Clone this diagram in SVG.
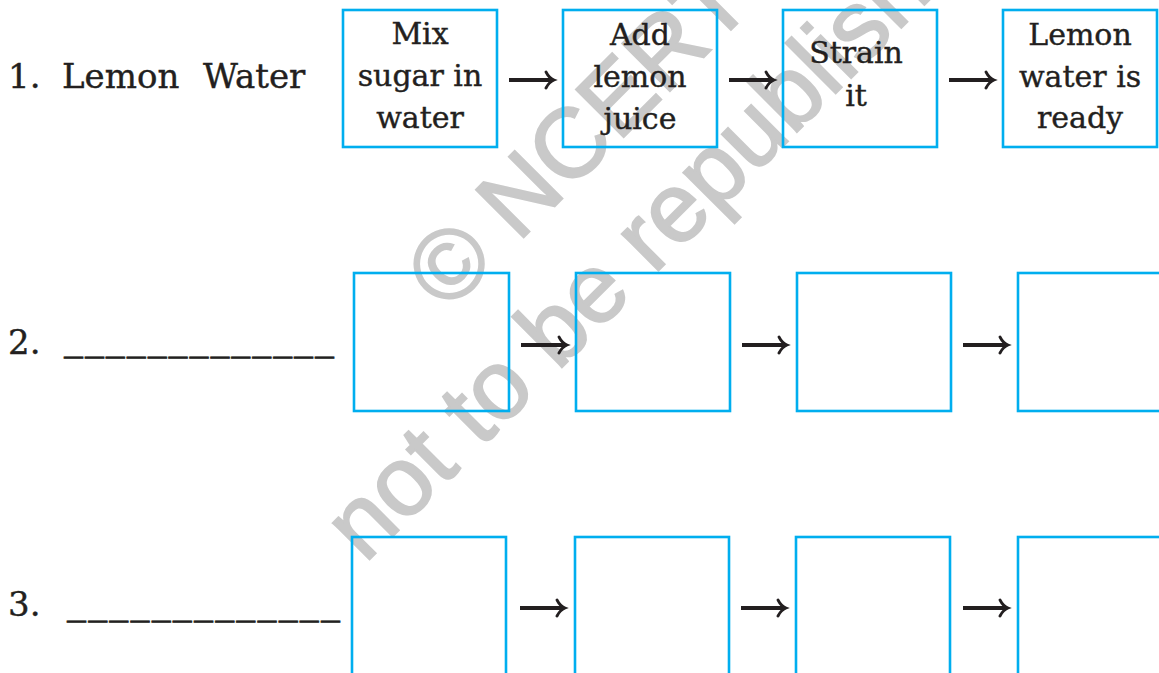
<svg xmlns="http://www.w3.org/2000/svg" width="1159" height="673" viewBox="0 0 1159 673">
<style>
.wm{font-family:"Liberation Sans",Arial,sans-serif;font-size:98px;fill:#c9c9c9;stroke:#c9c9c9;stroke-width:2}
.box{fill:none;stroke:#00aeef;stroke-width:2.6}
.t{font-family:"DejaVu Serif","Liberation Serif",serif;font-size:30px;fill:#231f20;stroke:#231f20;stroke-width:0.4;text-anchor:middle}
.lbl{font-family:"DejaVu Serif","Liberation Serif",serif;font-size:34px;fill:#231f20;stroke:#231f20;stroke-width:0.4}
.blank{font-family:"DejaVu Serif","Liberation Serif",serif;font-size:38px;fill:#231f20;stroke:#231f20;stroke-width:0.8}
.ln{stroke:#231f20;stroke-width:3.8;fill:none}
.hd{stroke:#231f20;stroke-width:2.8;fill:none;stroke-linecap:round}
</style>
<rect width="1159" height="673" fill="#ffffff"/>
<g id="watermark" transform="rotate(-45)">
<text class="wm" x="95" y="538">© NCERT</text>
<text class="wm" x="-141" y="657">not to be republished</text>
</g>
<g id="labels">
<text class="lbl" x="8" y="88">1.<tspan x="62">Lemon</tspan><tspan x="203">Water</tspan></text>
<text class="lbl" x="8" y="354">2.</text>
<text class="blank" x="64" y="349" textLength="270" lengthAdjust="spacing">_____________</text>
<text class="lbl" x="8" y="616">3.</text>
<text class="blank" x="67" y="613" textLength="273" lengthAdjust="spacing">_____________</text>
</g>
<g id="row1">
<g id="r1n1"><rect class="box" x="343" y="10" width="154" height="137"/><text class="t" x="420" y="44">Mix</text><text class="t" x="420" y="86">sugar in</text><text class="t" x="420" y="128">water</text></g>
<g id="r1n2"><rect class="box" x="563" y="10" width="154" height="137"/><text class="t" x="640" y="45">Add</text><text class="t" x="640" y="87">lemon</text><text class="t" x="640" y="129">juice</text></g>
<g id="r1n3"><rect class="box" x="783" y="10" width="154" height="137"/><text class="t" x="856" y="63">Strain</text><text class="t" x="856" y="106">it</text></g>
<g id="r1n4"><rect class="box" x="1003" y="10" width="154" height="137"/><text class="t" x="1080" y="45">Lemon</text><text class="t" x="1080" y="87">water is</text><text class="t" x="1080" y="128">ready</text></g>
</g>
<g id="row2">
<g id="r2n1"><rect class="box" x="354" y="273" width="155" height="138"/></g>
<g id="r2n2"><rect class="box" x="576" y="273" width="154" height="138"/></g>
<g id="r2n3"><rect class="box" x="797" y="273" width="154" height="138"/></g>
<g id="r2n4"><rect class="box" x="1018" y="273" width="160" height="138"/></g>
</g>
<g id="row3">
<g id="r3n1"><rect class="box" x="352" y="537" width="154" height="150"/></g>
<g id="r3n2"><rect class="box" x="575" y="537" width="154" height="150"/></g>
<g id="r3n3"><rect class="box" x="796" y="537" width="154" height="150"/></g>
<g id="r3n4"><rect class="box" x="1018" y="537" width="160" height="150"/></g>
</g>
<g id="connectors">
<path class="ln" d="M509 80H552M729 80H772M949 80H992"/>
<path class="hd" d="M546 72Q549 78 554 80Q549 82 546 88M766 72Q769 78 774 80Q769 82 766 88M986 72Q989 78 994 80Q989 82 986 88"/>
<path class="ln" d="M521 345H565M742 345H785M963 345H1006"/>
<path class="hd" d="M559 337Q562 343 567 345Q562 347 559 353M779 337Q782 343 787 345Q782 347 779 353M1000 337Q1003 343 1008 345Q1003 347 1000 353"/>
<path class="ln" d="M520 608H563M741 608H784M963 608H1006"/>
<path class="hd" d="M557 600Q560 606 565 608Q560 610 557 616M778 600Q781 606 786 608Q781 610 778 616M1000 600Q1003 606 1008 608Q1003 610 1000 616"/>
</g>
</svg>
